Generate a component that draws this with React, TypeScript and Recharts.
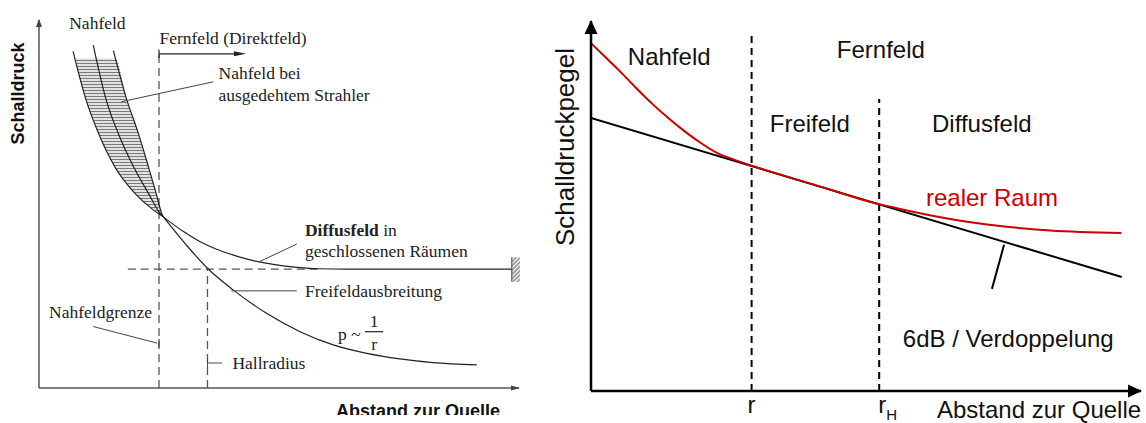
import React from 'react';
import {
  Area,
  ComposedChart,
  Label,
  Line,
  ReferenceArea,
  ReferenceDot,
  ReferenceLine,
  XAxis,
  YAxis,
} from 'recharts';

// --- linke Skizze: Schalldruck über Abstand (Achsen jeweils 0..100) ---
const nearFieldOuter = [
  { x: 7.1, y: 91.5 }, { x: 9.8, y: 78.3 }, { x: 12.4, y: 69.2 }, { x: 15.8, y: 60.1 },
  { x: 20.0, y: 52.9 }, { x: 23.8, y: 48.4 }, { x: 25.9, y: 46.5 },
];
const nearFieldMid = [
  { x: 11.3, y: 93.2 }, { x: 14.0, y: 78.3 }, { x: 16.5, y: 69.2 }, { x: 19.7, y: 60.1 },
  { x: 22.8, y: 52.9 }, { x: 25.3, y: 47.3 }, { x: 25.9, y: 46.5 },
];
const nearFieldInner = [
  { x: 15.5, y: 91.7 }, { x: 18.3, y: 78.3 }, { x: 20.7, y: 69.2 }, { x: 22.8, y: 60.1 },
  { x: 24.4, y: 52.9 }, { x: 25.6, y: 47.3 }, { x: 25.9, y: 46.5 },
];
// schraffierter Bereich (ausgedehnter Strahler)
const nearFieldBand = [
  { x: 7.6, lo: 89.6, hi: 89.6 }, { x: 8.5, lo: 84.2, hi: 89.6 }, { x: 9.8, lo: 78.3, hi: 89.6 },
  { x: 12.4, lo: 69.2, hi: 89.6 }, { x: 15.9, lo: 59.9, hi: 89.6 }, { x: 18.3, lo: 55.8, hi: 78.3 },
  { x: 20.7, lo: 51.9, hi: 69.2 }, { x: 22.8, lo: 49.5, hi: 60.1 }, { x: 24.4, lo: 48.0, hi: 52.9 },
  { x: 25.6, lo: 46.8, hi: 47.3 }, { x: 25.9, lo: 46.5, hi: 46.5 },
];
const freeFieldPressure = [
  { x: 25.9, y: 46.5 }, { x: 30.8, y: 38.7 }, { x: 35.2, y: 32.4 }, { x: 40.5, y: 26.6 },
  { x: 47.4, y: 20.3 }, { x: 54.4, y: 15.3 }, { x: 61.3, y: 11.7 }, { x: 68.3, y: 9.4 },
  { x: 75.2, y: 7.9 }, { x: 82.1, y: 6.9 }, { x: 91.2, y: 6.3 },
];
const diffuseFieldPressure = [
  { x: 25.9, y: 46.5 }, { x: 30.1, y: 42.5 }, { x: 33.5, y: 39.8 }, { x: 37.0, y: 37.7 },
  { x: 40.5, y: 36.1 }, { x: 44.0, y: 34.8 }, { x: 50.9, y: 33.2 }, { x: 54.4, y: 32.7 },
  { x: 58.5, y: 32.4 }, { x: 64.0, y: 32.3 }, { x: 98.5, y: 32.3 },
];
const nearFieldLimit = 25.0;
const hallRadius = 35.1;
const diffuseLevel = 32.3;

// --- rechte Skizze: Schalldruckpegel ---
const directLevel = [{ x: 0, y: 73.8 }, { x: 96.5, y: 30.8 }];
const realRoomLevel = [
  { x: 0, y: 94.0 }, { x: 2.5, y: 90.4 }, { x: 5.0, y: 86.8 }, { x: 8.0, y: 82.2 },
  { x: 11.0, y: 77.8 }, { x: 14.1, y: 73.7 }, { x: 17.1, y: 70.1 }, { x: 20.1, y: 66.9 },
  { x: 23.1, y: 64.2 }, { x: 26.2, y: 62.4 }, { x: 29.2, y: 60.9 }, { x: 40.7, y: 55.7 },
  { x: 52.4, y: 50.5 }, { x: 56.2, y: 49.2 }, { x: 65.3, y: 46.5 }, { x: 74.4, y: 44.6 },
  { x: 83.5, y: 43.4 }, { x: 96.4, y: 42.7 },
];
const rNear = 29.2;
const rHall = 52.4;

const serif = '"Liberation Serif", "Times New Roman", serif';
const sans = '"Liberation Sans", Arial, sans-serif';
const ink = '#222';

const note = (x: number, y: number, content: React.ReactNode, attrs: any) => (
  <ReferenceDot
    x={x}
    y={y}
    ifOverflow="visible"
    shape={(p: any) => (
      <text x={p.cx} y={p.cy} dominantBaseline="central" {...attrs}>
        {content}
      </text>
    )}
  />
);

const arrow = (x: number, y: number, dir: 'up' | 'right', len: number, half: number, color: string) => (
  <ReferenceDot
    x={x}
    y={y}
    ifOverflow="visible"
    shape={(p: any) => {
      const d =
        dir === 'up'
          ? `M${p.cx},${p.cy - 1} L${p.cx - half},${p.cy + len} L${p.cx + half},${p.cy + len} Z`
          : `M${p.cx + 1},${p.cy} L${p.cx - len},${p.cy - half} L${p.cx - len},${p.cy + half} Z`;
      return <path d={d} fill={color} />;
    }}
  />
);

const seg = (x1: number, y1: number, x2: number, y2: number, stroke: string, width: number, dash?: string) => (
  <ReferenceLine
    segment={[{ x: x1, y: y1 }, { x: x2, y: y2 }]}
    stroke={stroke}
    strokeWidth={width}
    strokeDasharray={dash}
    ifOverflow="visible"
  />
);

const leftSerif = { fontFamily: serif, fontSize: 17.5, fill: ink };
const rightSans = { fontFamily: sans, fontSize: 24, fill: '#111' };

const DistTick = (p: any) => {
  const hall = p.payload.value === rHall;
  return (
    <text
      x={hall ? p.x - 1 : p.x}
      y={p.y + 22}
      textAnchor={hall ? 'start' : 'middle'}
      fontFamily={sans}
      fontSize={24}
      fill="#111"
    >
      r
      {hall ? (
        <tspan fontSize={15} dy={7}>
          H
        </tspan>
      ) : null}
    </text>
  );
};

const PressureSketch = () => (
  <div style={{ position: 'absolute', left: 0, top: 0, width: 530, height: 415, overflow: 'hidden' }}>
    <ComposedChart width={530} height={415} margin={{ top: 20, right: 11, bottom: 0, left: 0 }}>
      <defs>
        <pattern id="hatch" width="6" height="3" patternUnits="userSpaceOnUse">
          <rect width="6" height="3" fill="#e2e2e2" />
          <line x1="0" y1="0.5" x2="6" y2="0.5" stroke="#7a7a7a" strokeWidth="1" />
        </pattern>
        <pattern id="wall" width="3" height="3" patternUnits="userSpaceOnUse" patternTransform="rotate(45)">
          <line x1="1" y1="0" x2="1" y2="3" stroke="#444" strokeWidth="1" />
        </pattern>
      </defs>
      <XAxis
        type="number"
        dataKey="x"
        domain={[0, 100]}
        allowDataOverflow
        height={27}
        tick={false}
        tickLine={false}
        axisLine={{ stroke: '#555', strokeWidth: 1.5 }}
      >
        <Label
          content={(p: any) => (
            <text
              x={p.viewBox.x + p.viewBox.width - 19}
              y={p.viewBox.y + 29}
              textAnchor="end"
              fontFamily={sans}
              fontWeight="bold"
              fontSize={18}
              fill="#111"
            >
              Abstand zur Quelle
            </text>
          )}
        />
      </XAxis>
      <YAxis
        type="number"
        domain={[0, 100]}
        allowDataOverflow
        width={39}
        tick={false}
        tickLine={false}
        axisLine={{ stroke: '#555', strokeWidth: 1.5 }}
      >
        <Label
          content={(p: any) => {
            const cx = p.viewBox.x + 18;
            const cy = p.viewBox.y + 73.5;
            return (
              <text
                x={cx}
                y={cy}
                transform={`rotate(-90 ${cx} ${cy})`}
                textAnchor="middle"
                dominantBaseline="central"
                fontFamily={sans}
                fontWeight="bold"
                fontSize={18}
                fill="#111"
              >
                Schalldruck
              </text>
            );
          }}
        />
      </YAxis>

      <Area
        data={nearFieldBand}
        dataKey={(d: any) => [d.lo, d.hi]}
        type="monotone"
        stroke="none"
        fill="url(#hatch)"
        fillOpacity={1}
        isAnimationActive={false}
      />

      {seg(nearFieldLimit, 0, nearFieldLimit, 90.8, '#555', 1.3, '8 5')}
      {seg(hallRadius, 0, hallRadius, diffuseLevel, '#555', 1.3, '8 5')}
      {seg(18.5, diffuseLevel, 58.0, diffuseLevel, '#555', 1.3, '8 5')}

      <Line data={nearFieldOuter} dataKey="y" type="monotone" stroke={ink} strokeWidth={1.2} dot={false} isAnimationActive={false} />
      <Line data={nearFieldMid} dataKey="y" type="monotone" stroke={ink} strokeWidth={1.2} dot={false} isAnimationActive={false} />
      <Line data={nearFieldInner} dataKey="y" type="monotone" stroke={ink} strokeWidth={1.2} dot={false} isAnimationActive={false} />
      <Line data={freeFieldPressure} dataKey="y" type="monotone" stroke={ink} strokeWidth={1.2} dot={false} isAnimationActive={false} />
      <Line data={diffuseFieldPressure} dataKey="y" type="monotone" stroke={ink} strokeWidth={1.2} dot={false} isAnimationActive={false} />

      <ReferenceArea x1={98.5} x2={100.2} y1={28.9} y2={35.5} fill="url(#wall)" fillOpacity={1} stroke="none" ifOverflow="visible" />
      {seg(98.5, 28.9, 98.5, 35.5, '#444', 1)}

      {arrow(0, 100, 'up', 7, 3, '#444')}
      {arrow(100, 0, 'right', 8, 2.5, '#444')}

      {/* Fernfeld-Pfeil */}
      {seg(nearFieldLimit, 90.8, 42.0, 90.8, ink, 1.2)}
      {seg(nearFieldLimit, 91.9, nearFieldLimit, 89.7, ink, 1.2)}
      {arrow(42.9, 90.8, 'right', 11, 2.5, ink)}

      {/* Hinweislinien */}
      {seg(36.3, 83.2, 17.2, 77.8, '#444', 1)}
      {seg(53.7, 39.1, 46.0, 34.4, '#444', 1)}
      {seg(53.7, 26.4, 40.1, 26.4, '#444', 1)}
      {seg(11.3, 16.7, 24.6, 12.2, '#444', 1)}
      {seg(nearFieldLimit, 13.3, nearFieldLimit, 11.1, '#444', 1.2)}
      {seg(hallRadius, 7.9, hallRadius, 5.7, '#444', 1)}
      {seg(hallRadius, 6.8, 38.1, 6.8, '#444', 1)}

      {note(6.3, 99.3, 'Nahfeld', leftSerif)}
      {note(25.1, 95.2, 'Fernfeld (Direktfeld)', leftSerif)}
      {note(37.4, 85.5, 'Nahfeld bei', leftSerif)}
      {note(37.4, 79.6, 'ausgedehtem Strahler', leftSerif)}
      {note(
        55.4,
        42.9,
        <>
          <tspan fontWeight="bold">Diffusfeld</tspan> in
        </>,
        leftSerif,
      )}
      {note(55.4, 37.3, 'geschlossenen Räumen', leftSerif)}
      {note(55.4, 26.4, 'Freifeldausbreitung', leftSerif)}
      {note(2.1, 20.7, 'Nahfeldgrenze', leftSerif)}
      {note(40.3, 6.8, 'Hallradius', leftSerif)}
      {note(62.3, 14.6, 'p ~', leftSerif)}
      {note(69.8, 18.2, '1', { ...leftSerif, textAnchor: 'middle' })}
      {seg(67.9, 15.3, 71.7, 15.3, ink, 1.2)}
      {note(69.8, 12.0, 'r', { ...leftSerif, textAnchor: 'middle' })}
    </ComposedChart>
  </div>
);

const LevelSketch = () => (
  <div style={{ position: 'absolute', left: 540, top: 0, width: 606, height: 423 }}>
    <ComposedChart width={606} height={423} margin={{ top: 21, right: 5, bottom: 0, left: 0 }}>
      <XAxis
        type="number"
        dataKey="x"
        domain={[0, 100]}
        allowDataOverflow
        height={32}
        ticks={[rNear, rHall]}
        tickLine={false}
        tickSize={0}
        tickMargin={0}
        tick={<DistTick />}
        axisLine={{ stroke: '#000', strokeWidth: 2.5 }}
      >
        <Label
          content={(p: any) => (
            <text x={p.viewBox.x + 346} y={p.viewBox.y + 27} {...rightSans}>
              Abstand zur Quelle
            </text>
          )}
        />
      </XAxis>
      <YAxis
        type="number"
        domain={[0, 100]}
        allowDataOverflow
        width={51}
        tick={false}
        tickLine={false}
        axisLine={{ stroke: '#000', strokeWidth: 2.5 }}
      >
        <Label
          content={(p: any) => {
            const cx = p.viewBox.x + 25;
            const cy = p.viewBox.y + 126;
            return (
              <text
                x={cx}
                y={cy}
                transform={`rotate(-90 ${cx} ${cy})`}
                textAnchor="middle"
                dominantBaseline="central"
                fontFamily={sans}
                fontSize={26}
                fill="#111"
              >
                Schalldruckpegel
              </text>
            );
          }}
        />
      </YAxis>

      {seg(rNear, 0, rNear, 97, '#000', 2, '7 5')}
      {seg(rHall, 0, rHall, 78.9, '#000', 2, '7 5')}

      <Line data={directLevel} dataKey="y" type="linear" stroke="#000" strokeWidth={2} dot={false} isAnimationActive={false} />
      <Line data={realRoomLevel} dataKey="y" type="monotone" stroke="#cc0000" strokeWidth={2} dot={false} isAnimationActive={false} />

      {seg(75.1, 39.5, 72.9, 27.6, '#000', 2)}

      {arrow(0, 100, 'up', 13, 6.5, '#000')}
      {arrow(100, 0, 'right', 13, 6.5, '#000')}

      {note(6.7, 90.3, 'Nahfeld', rightSans)}
      {note(44.7, 92.2, 'Fernfeld', rightSans)}
      {note(32.5, 72.4, 'Freifeld', rightSans)}
      {note(62.0, 72.4, 'Diffusfeld', rightSans)}
      {note(60.9, 52.4, 'realer Raum', { ...rightSans, fill: '#cc0000' })}
      {note(56.7, 14.3, '6dB / Verdoppelung', rightSans)}
    </ComposedChart>
  </div>
);

export default function App() {
  return (
    <div style={{ position: 'absolute', left: 0, top: 0, width: 1146, height: 423, background: '#fff' }}>
      <PressureSketch />
      <LevelSketch />
    </div>
  );
}
